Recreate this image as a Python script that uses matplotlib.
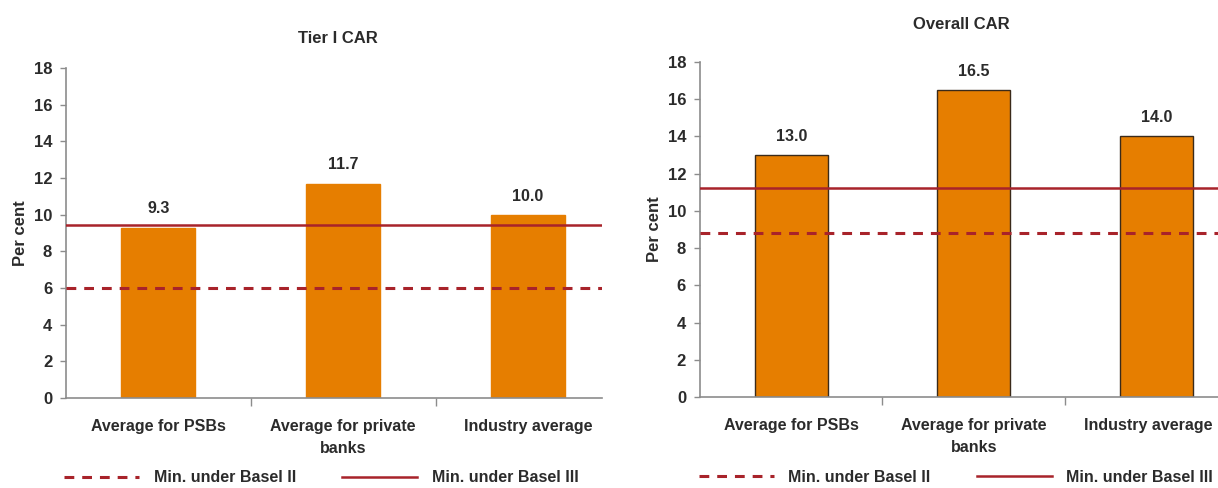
import numpy as np
import matplotlib
matplotlib.use("Agg")
import matplotlib.pyplot as plt
from matplotlib.lines import Line2D
from matplotlib.transforms import ScaledTranslation

#%% Data
categories   = ["Average for PSBs", "Average for private\nbanks", "Industry average"]
tier1_car    = [9.3, 11.7, 10.0]
overall_car  = [13.0, 16.5, 14.0]
tier1_basel2 = 6.0      # Min. under Basel II
tier1_basel3 = 9.45     # Min. under Basel III
total_basel2 = 8.8
total_basel3 = 11.25
yticks       = np.arange(0, 19, 2)

#%% Style
font      = ["Liberation Sans", "DejaVu Sans"]
bar_color = "#E67E00"
line_col  = "#A8232A"
axis_col  = "#8C8C8C"
txt_col   = "#2B2B2B"

fig = plt.figure(figsize=(12.18, 4.88), dpi=100)

panels = [
    # axes rect, title, values, basel2, basel3, xmax, bar edge, title x, title y, legend x
    ([0.0542, 0.1844, 0.4400, 0.6762], "Tier I CAR",  tier1_car,   tier1_basel2, tier1_basel3, 2.40, bar_color, 0.2775, 0.922, -0.030),
    ([0.5747, 0.1865, 0.4300, 0.6865], "Overall CAR", overall_car, total_basel2, total_basel3, 2.37, "#3A2A1A", 0.789,  0.949, -0.030),
]

axes = []
for rect, title, vals, b2, b3, xmax, edge, tx, ty, lx in panels:
    ax = fig.add_axes(rect)
    axes.append(ax)
    x = np.arange(len(categories))
    ax.bar(x, vals, width=0.40, color=bar_color, edgecolor=edge, linewidth=1.0, zorder=2)
    ax.axhline(b2, color=line_col, lw=2.2, ls=(0, (3.2, 2.6)), zorder=3)
    ax.axhline(b3, color=line_col, lw=1.8, ls="-", zorder=3)

    for xi, v in zip(x, vals):
        ax.annotate(f"{v:.1f}", (xi, v), xytext=(0, 8), textcoords="offset points",
                    ha="center", va="bottom", fontsize=11.5, fontweight="bold",
                    color=txt_col, family=font)

    ax.set_xlim(-0.5, xmax)
    ax.set_ylim(0, 18)
    ax.set_yticks(yticks)
    ax.set_yticklabels([str(t) for t in yticks], family=font, fontsize=12,
                       fontweight="bold", color=txt_col)
    ax.tick_params(axis="y", length=4, color=axis_col, width=1, pad=6)

    # separators as major ticks, category names on minor ticks
    ax.set_xticks([0.5, 1.5])
    ax.set_xticklabels([])
    ax.tick_params(axis="x", which="major", length=6, color=axis_col, width=1)
    ax.set_xticks(x, minor=True)
    ax.set_xticklabels(categories, minor=True, family=font, fontsize=11.5,
                       fontweight="bold", color=txt_col, linespacing=1.6)
    ax.tick_params(axis="x", which="minor", length=0, pad=15)

    for s in ["top", "right"]:
        ax.spines[s].set_visible(False)
    for s in ["left", "bottom"]:
        ax.spines[s].set_color(axis_col)
        ax.spines[s].set_linewidth(1.2)

    ax.set_ylabel("Per cent", family=font, fontsize=12, fontweight="bold",
                  color=txt_col, labelpad=4)

    fig.text(tx, ty, title, ha="center", va="center",
             family=font, fontsize=12, fontweight="bold", color=txt_col)

    handles = [Line2D([], [], color=line_col, lw=2.2, ls=(0, (3.2, 2.6))),
               Line2D([], [], color=line_col, lw=1.8, ls="-")]
    leg = ax.legend(handles, ["Min. under Basel II", "Min. under Basel III"],
                    loc="upper left", bbox_to_anchor=(lx, -0.175), ncol=2,
                    frameon=False, handlelength=4.7, handletextpad=0.9,
                    columnspacing=2.9,
                    prop={"family": font, "size": 11.5, "weight": "bold"})
    for t in leg.get_texts():
        t.set_color(txt_col)

# last category on the right panel runs into the figure edge: nudge it left
lab = axes[1].get_xticklabels(minor=True)[-1]
lab.set_transform(lab.get_transform() + ScaledTranslation(-6 / 72, 0, fig.dpi_scale_trans))

fig.savefig("out.png", dpi=100)
